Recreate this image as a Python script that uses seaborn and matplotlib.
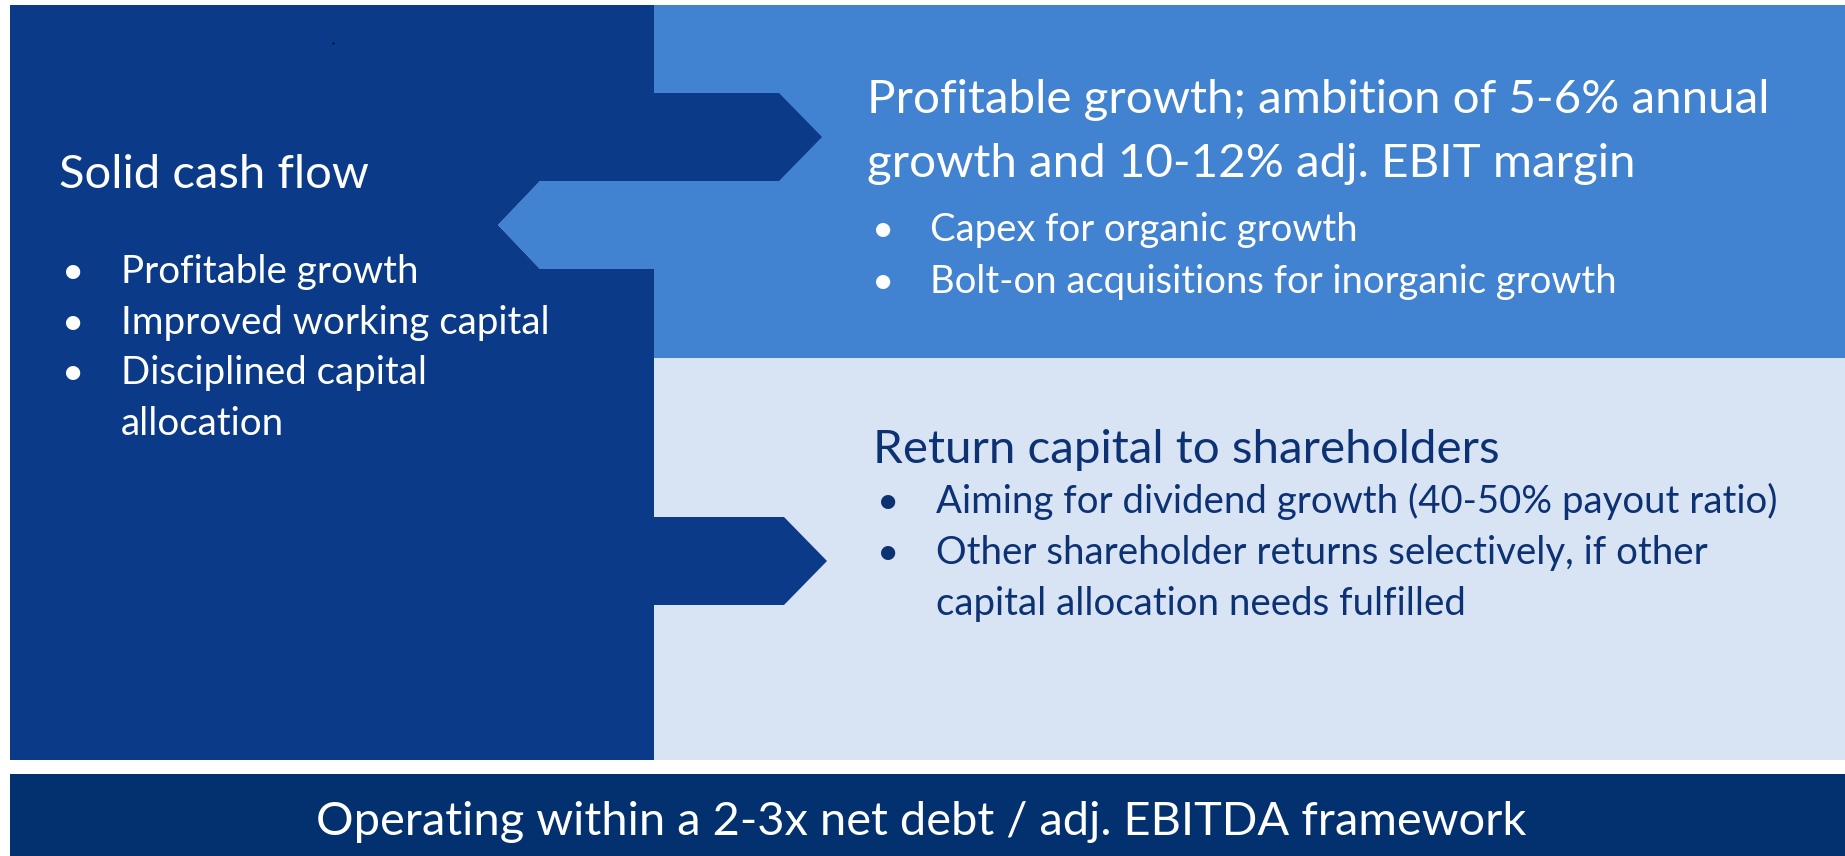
import matplotlib
matplotlib.use("Agg")
import matplotlib.pyplot as plt
from matplotlib.patches import Polygon, Rectangle
import seaborn as sns

# ---- content ----
left_title = "Solid cash flow"
left_bullets = ["Profitable growth", "Improved working capital", "Disciplined capital", "allocation"]
left_bullet_marks = [True, True, True, False]

growth_title = ["Profitable growth; ambition of 5-6% annual", "growth and 10-12% adj. EBIT margin"]
growth_bullets = ["Capex for organic growth", "Bolt-on acquisitions for inorganic growth"]

return_title = "Return capital to shareholders"
return_bullets = ["Aiming for dividend growth (40-50% payout ratio)",
                  "Other shareholder returns selectively, if other",
                  "capital allocation needs fulfilled"]
return_bullet_marks = [True, True, False]

bar_text = "Operating within a 2-3x net debt / adj. EBITDA framework"

# ---- colours ----
DARK = "#0B3A89"
MED = "#4182D1"
LIGHT = "#D8E3F3"
BAR = "#03306F"
NAVY_TEXT = "#0C3274"
WHITE = "#FFFFFF"

sns.set_theme(style="white")
plt.rcParams["font.family"] = ["Lato", "DejaVu Sans"]

W, H = 1845, 856
fig = plt.figure(figsize=(W / 100, H / 100), dpi=100)
ax = fig.add_axes([0, 0, 1, 1])
ax.set_xlim(0, W)
ax.set_ylim(H, 0)
ax.axis("off")
fig.patch.set_facecolor("white")

# ---- shapes (layout in pixels) ----
ax.add_patch(Rectangle((654, 5), W - 654, 353, facecolor=MED, edgecolor="none"))
ax.add_patch(Rectangle((654, 358), W - 654, 402, facecolor=LIGHT, edgecolor="none"))
ax.add_patch(Polygon([(498, 225), (540, 181), (660, 181), (660, 269), (540, 269)],
                     closed=True, facecolor=MED, edgecolor="none"))
dark_outline = [(10, 5), (654, 5), (654, 93), (779, 93), (822, 137), (779, 181),
                (540, 181), (498, 225), (540, 269), (654, 269), (654, 517),
                (784, 517), (827, 561), (784, 605), (654, 605), (654, 760), (10, 760)]
ax.add_patch(Polygon(dark_outline, closed=True, facecolor=DARK, edgecolor="none"))
ax.add_patch(Rectangle((10, 774), W - 10, H - 774, facecolor=BAR, edgecolor="none"))
ax.plot([333], [43], marker="s", ms=1.2, color="black", mew=0)

renderer = fig.canvas.get_renderer()


def fit(text, width, base=20):
    t = ax.text(0, 0, text, fontsize=base)
    bb = t.get_window_extent(renderer)
    t.remove()
    return base * width / bb.width


def put(x, y, s, fs, color, ha="left"):
    ax.text(x, y, s, fontsize=fs, color=color, ha=ha, va="baseline")


# left box
fs = fit(left_title, 309)
put(59, 188, left_title, fs, WHITE)
fs = fit(left_bullets[1], 429)
for i, (s, m) in enumerate(zip(left_bullets, left_bullet_marks)):
    y = 283 + i * 50.7
    if m:
        put(62, y, "•", fs, WHITE)
    put(121, y, s, fs, WHITE)

# growth box
fs = fit(growth_title[0], 903)
for i, s in enumerate(growth_title):
    put(867, 113 + i * 64, s, fs, WHITE)
fs = fit(growth_bullets[1], 688)
for i, s in enumerate(growth_bullets):
    y = 241 + i * 52
    put(872, y, "•", fs, WHITE)
    put(930, y, s, fs, WHITE)

# return box
fs = fit(return_title, 628)
put(873, 463, return_title, fs, NAVY_TEXT)
fs = fit(return_bullets[0], 841)
for i, (s, m) in enumerate(zip(return_bullets, return_bullet_marks)):
    y = 513 + i * 51
    if m:
        put(877, y, "•", fs, NAVY_TEXT)
    put(936, y, s, fs, NAVY_TEXT)

# bottom bar
fs = fit(bar_text, 1214)
put(921, 835, bar_text, fs, WHITE, ha="center")

fig.savefig("out.png", dpi=100, facecolor="white")
